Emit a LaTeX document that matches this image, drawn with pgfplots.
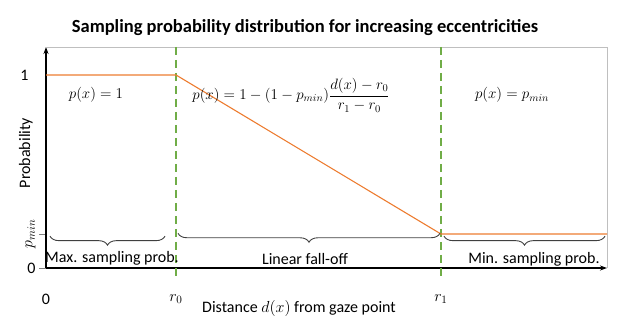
\documentclass[border=0pt]{standalone}
\usepackage{fix-cm}
\usepackage{pgfplots}
\pgfplotsset{compat=1.18}
\usepackage{fontspec}
\setmainfont{Carlito}
\usetikzlibrary{decorations.pathreplacing,arrows.meta}
\definecolor{orng}{RGB}{237,125,49}
\definecolor{grn}{RGB}{112,173,71}
\definecolor{brc}{RGB}{64,64,64}
\begin{document}
\begin{tikzpicture}
\path[use as bounding box] (0,0) rectangle (643pt,328pt);
\node[font=\fontsize{18.5}{21}\selectfont\bfseries] at (305pt,300pt) {Sampling probability distribution for increasing eccentricities};
\begin{axis}[
 at={(46pt,60pt)}, anchor=south west, scale only axis, width=561pt, height=221pt,
 xmin=0, xmax=561, ymin=0, ymax=1.145,
 axis lines=left,
 axis line style={black, line width=1.2pt, -{Stealth[length=7pt,width=5pt]}},
 clip=false,
 /pgf/number format/assume math mode=true,
 tick label style={font=\fontsize{16}{18}\selectfont},
 xtick={0,130,395}, xticklabels={0,$r_0$,$r_1$},
 x tick style={draw=none},
 xticklabel style={yshift=-16pt},
 ytick={0,0.176}, yticklabels={0,\rotatebox{90}{$p_{min}$}},
 extra y ticks={1}, extra y tick labels={1},
 extra y tick style={tick style={draw=none}, yticklabel style={xshift=-7pt}},
 y tick style={gray, line width=0.8pt},
 tick align=outside, major tick length=7pt,
 xlabel={Distance $d(x)$ from gaze point},
 ylabel={Probability},
 label style={font=\fontsize{16}{18}\selectfont},
 xlabel style={at={(axis description cs:0.451,0)}, anchor=center, yshift=-41pt},
 ylabel style={at={(axis description cs:-0.036,0.52)}, anchor=center},
]
\draw[gray!50, line width=0.8pt] (axis cs:0,1.145) -- (axis cs:561,1.145) -- (axis cs:561,0);
\addplot[grn, line width=2pt, dash pattern=on 8pt off 5pt] coordinates {(130,1.145) (130,-0.052)};
\addplot[grn, line width=2pt, dash pattern=on 8pt off 5pt] coordinates {(395,1.145) (395,-0.052)};
\addplot[orng, line width=1.1pt] coordinates {(0,1) (130,1) (395,0.176) (561,0.176)};
\draw[brc, line width=0.9pt, decorate, decoration={brace, mirror, amplitude=9pt}] (axis cs:4,0.165) -- (axis cs:119,0.165);
\draw[brc, line width=0.9pt, decorate, decoration={brace, mirror, amplitude=9pt}] (axis cs:132,0.18) -- (axis cs:394,0.18);
\draw[brc, line width=0.9pt, decorate, decoration={brace, mirror, amplitude=9pt}] (axis cs:398,0.165) -- (axis cs:559,0.165);
\node[font=\fontsize{16}{18}\selectfont] at (axis cs:66,0.052) {Max. sampling prob.};
\node[font=\fontsize{16}{18}\selectfont] at (axis cs:259,0.047) {Linear fall-off};
\node[font=\fontsize{16}{18}\selectfont] at (axis cs:488,0.047) {Min. sampling prob.};
\node[font=\fontsize{15}{17}\selectfont] at (axis cs:50,0.896) {$p(x)=1$};
\node[font=\fontsize{15}{17}\selectfont] at (axis cs:245,0.896) {$p(x)=1-(1-p_{min})\displaystyle\frac{d(x)-r_0}{r_1-r_0}$};
\node[font=\fontsize{15}{17}\selectfont] at (axis cs:466,0.896) {$p(x)=p_{min}$};
\end{axis}
\end{tikzpicture}
\end{document}
